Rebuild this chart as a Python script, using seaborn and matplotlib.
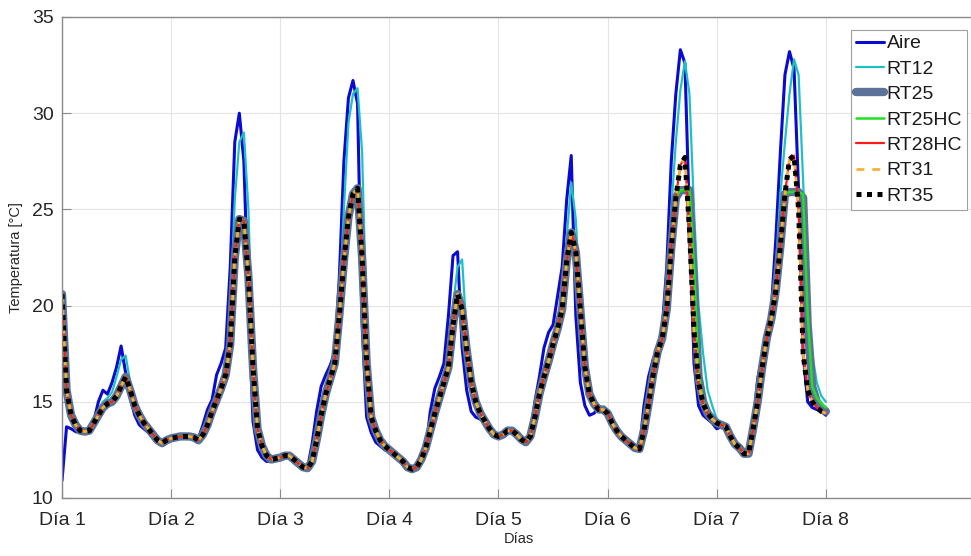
import numpy as np
import pandas as pd
import matplotlib
matplotlib.use("Agg")
import matplotlib.pyplot as plt
import seaborn as sns

# Hourly temperatures (°C) over seven days, hour 0 = start of "Día 1"
horas = np.arange(0, 169)

aire = [
    10.9, 13.7, 13.6, 13.45, 13.4, 13.35, 13.4, 14.0, 15.0, 15.6, 15.4, 16.0, 16.8, 17.9, 16.5, 15.2, 14.3, 13.8, 13.6, 13.4, 13.2, 13.0, 12.85, 13.0,
    13.1, 13.15, 13.2, 13.2, 13.2, 13.15, 13.1, 13.8, 14.6, 15.1, 16.4, 17.0, 17.8, 22.0, 28.5, 30.0, 27.5, 20.0, 14.0, 12.5, 12.1, 11.9, 11.9, 12.0,
    12.1, 12.2, 12.2, 12.0, 11.8, 11.6, 11.55, 12.8, 14.5, 15.8, 16.4, 16.9, 17.6, 21.5, 27.5, 30.8, 31.7, 30.5, 19.0, 14.2, 13.4, 12.9, 12.7, 12.5,
    12.4, 12.3, 12.1, 11.9, 11.6, 11.5, 11.6, 12.3, 12.5, 14.5, 15.7, 16.3, 17.0, 19.5, 22.6, 22.8, 17.8, 15.6, 14.5, 14.2, 14.1, 13.9, 13.6, 13.3,
    13.2, 13.3, 13.5, 13.5, 13.3, 13.05, 12.9, 13.3, 15.0, 16.3, 17.8, 18.6, 19.0, 20.5, 22.0, 25.5, 27.8, 19.5, 16.0, 14.8, 14.3, 14.4, 14.7, 14.6,
    14.4, 13.9, 13.5, 13.2, 13.0, 12.8, 12.6, 12.55, 14.8, 16.3, 17.2, 17.8, 18.8, 22.0, 27.5, 31.0, 33.3, 32.6, 24.5, 17.0, 14.8, 14.3, 14.1, 13.9,
    13.6, 13.7, 13.7, 13.2, 12.8, 12.6, 12.3, 12.3, 13.8, 16.2, 17.4, 18.3, 19.8, 23.5, 28.0, 32.0, 33.2, 32.3, 26.0, 17.5, 15.0, 14.7, 14.6, 14.5,
    14.3,
]

rt12 = [
    20.5, 16.5, 14.6, 13.9, 13.6, 13.45, 13.45, 13.8, 14.5, 15.0, 15.2, 15.5, 16.3, 17.2, 17.4, 16.0, 15.0, 14.4, 13.9, 13.6, 13.3, 13.0, 12.85, 13.0,
    13.1, 13.15, 13.2, 13.2, 13.2, 13.15, 13.0, 13.4, 14.0, 14.7, 15.4, 16.0, 16.6, 19.5, 25.5, 28.5, 29.0, 25.0, 17.0, 13.5, 12.6, 12.2, 12.0, 12.05,
    12.1, 12.2, 12.2, 12.0, 11.8, 11.6, 11.55, 12.0, 13.3, 14.6, 15.7, 16.5, 17.3, 20.0, 25.0, 29.5, 31.0, 31.3, 28.0, 19.0, 14.5, 13.6, 13.1, 12.8,
    12.5, 12.3, 12.1, 11.9, 11.6, 11.5, 11.6, 12.1, 12.7, 13.7, 14.6, 15.4, 16.3, 17.3, 20.0, 22.0, 22.4, 18.5, 16.3, 15.0, 14.4, 14.0, 13.6, 13.3,
    13.2, 13.3, 13.5, 13.5, 13.3, 13.05, 12.9, 13.2, 14.4, 15.6, 16.6, 17.4, 18.3, 19.2, 20.5, 23.5, 26.4, 24.5, 20.0, 16.8, 15.3, 14.9, 14.6, 14.6,
    14.4, 13.9, 13.5, 13.2, 13.0, 12.8, 12.6, 12.55, 13.7, 15.2, 16.6, 17.8, 18.6, 20.5, 25.0, 28.5, 31.2, 32.7, 31.0, 25.0, 20.0, 17.5, 15.6, 14.8,
    14.1, 13.9, 13.7, 13.2, 12.8, 12.6, 12.3, 12.3, 13.7, 15.2, 17.0, 18.5, 19.6, 22.0, 25.8, 28.5, 31.0, 32.8, 32.0, 26.5, 20.5, 17.5, 16.0, 15.3,
    15.0,
]

rt25 = [
    20.6, 15.6, 14.3, 13.8, 13.5, 13.45, 13.5, 13.9, 14.3, 14.7, 14.9, 15.0, 15.3, 15.8, 16.3, 15.6, 14.8, 14.3, 13.9, 13.6, 13.3, 13.0, 12.85, 13.0,
    13.1, 13.15, 13.2, 13.2, 13.2, 13.15, 13.0, 13.3, 13.8, 14.5, 15.1, 15.7, 16.4, 18.0, 22.5, 24.5, 24.4, 21.5, 16.8, 13.6, 12.7, 12.2, 12.0, 12.05,
    12.1, 12.2, 12.2, 12.0, 11.8, 11.6, 11.55, 11.9, 13.0, 14.3, 15.4, 16.2, 17.0, 19.5, 22.3, 24.6, 25.8, 26.1, 22.5, 17.0, 14.2, 13.5, 13.0, 12.7,
    12.5, 12.3, 12.1, 11.9, 11.6, 11.5, 11.6, 12.0, 12.6, 13.5, 14.4, 15.2, 16.0, 16.8, 19.0, 20.6, 19.8, 17.7, 16.0, 15.0, 14.4, 14.0, 13.6, 13.3,
    13.2, 13.3, 13.5, 13.5, 13.3, 13.05, 12.9, 13.2, 14.2, 15.4, 16.3, 17.1, 18.0, 18.8, 19.8, 22.3, 23.8, 22.8, 19.8, 16.8, 15.4, 14.9, 14.6, 14.6,
    14.4, 13.9, 13.5, 13.2, 13.0, 12.8, 12.6, 12.55, 13.5, 14.9, 16.4, 17.6, 18.3, 19.8, 23.0, 25.6, 26.0, 26.0, 26.0, 21.0, 16.3, 15.0, 14.4, 14.1,
    13.9, 13.8, 13.7, 13.2, 12.8, 12.6, 12.3, 12.3, 13.6, 15.0, 16.8, 18.3, 19.3, 20.8, 23.1, 25.8, 25.9, 25.9, 25.9, 25.6, 19.0, 15.8, 15.0, 14.7,
    14.5,
]

rt25hc = [
    20.6, 15.6, 14.3, 13.8, 13.5, 13.45, 13.5, 13.9, 14.3, 14.7, 14.9, 15.0, 15.3, 15.8, 16.3, 15.6, 14.8, 14.3, 13.9, 13.6, 13.3, 13.0, 12.85, 13.0,
    13.1, 13.15, 13.2, 13.2, 13.2, 13.15, 13.0, 13.3, 13.8, 14.5, 15.1, 15.7, 16.4, 18.0, 22.5, 24.5, 24.4, 21.5, 16.8, 13.6, 12.7, 12.2, 12.0, 12.05,
    12.1, 12.2, 12.2, 12.0, 11.8, 11.6, 11.55, 11.9, 13.0, 14.3, 15.4, 16.2, 17.0, 19.5, 22.3, 24.6, 25.8, 26.1, 22.5, 17.0, 14.2, 13.5, 13.0, 12.7,
    12.5, 12.3, 12.1, 11.9, 11.6, 11.5, 11.6, 12.0, 12.6, 13.5, 14.4, 15.2, 16.0, 16.8, 19.0, 20.6, 19.8, 17.7, 16.0, 15.0, 14.4, 14.0, 13.6, 13.3,
    13.2, 13.3, 13.5, 13.5, 13.3, 13.05, 12.9, 13.2, 14.2, 15.4, 16.3, 17.1, 18.0, 18.8, 19.8, 22.3, 23.8, 22.8, 19.8, 16.8, 15.4, 14.9, 14.6, 14.6,
    14.4, 13.9, 13.5, 13.2, 13.0, 12.8, 12.6, 12.55, 13.5, 14.9, 16.4, 17.6, 18.3, 19.8, 23.0, 25.6, 26.0, 26.0, 26.0, 22.0, 16.5, 15.0, 14.4, 14.1,
    13.9, 13.8, 13.7, 13.2, 12.8, 12.6, 12.3, 12.3, 13.6, 15.0, 16.8, 18.3, 19.3, 20.8, 23.1, 25.8, 25.9, 25.9, 25.9, 25.8, 19.5, 15.8, 15.2, 14.9,
    14.7,
]

rt28hc = [
    20.6, 15.6, 14.3, 13.8, 13.5, 13.45, 13.5, 13.9, 14.3, 14.7, 14.9, 15.0, 15.3, 15.8, 16.3, 15.6, 14.8, 14.3, 13.9, 13.6, 13.3, 13.0, 12.85, 13.0,
    13.1, 13.15, 13.2, 13.2, 13.2, 13.15, 13.0, 13.3, 13.8, 14.5, 15.1, 15.7, 16.4, 18.0, 22.5, 24.5, 24.4, 21.5, 16.8, 13.6, 12.7, 12.2, 12.0, 12.05,
    12.1, 12.2, 12.2, 12.0, 11.8, 11.6, 11.55, 11.9, 13.0, 14.3, 15.4, 16.2, 17.0, 19.5, 22.3, 24.6, 25.8, 26.1, 22.5, 17.0, 14.2, 13.5, 13.0, 12.7,
    12.5, 12.3, 12.1, 11.9, 11.6, 11.5, 11.6, 12.0, 12.6, 13.5, 14.4, 15.2, 16.0, 16.8, 19.0, 20.6, 19.8, 17.7, 16.0, 15.0, 14.4, 14.0, 13.6, 13.3,
    13.2, 13.3, 13.5, 13.5, 13.3, 13.05, 12.9, 13.2, 14.2, 15.4, 16.3, 17.1, 18.0, 18.8, 19.8, 22.3, 23.8, 22.8, 19.8, 16.8, 15.4, 14.9, 14.6, 14.6,
    14.4, 13.9, 13.5, 13.2, 13.0, 12.8, 12.6, 12.55, 13.5, 14.9, 16.4, 17.6, 18.3, 19.8, 23.0, 25.6, 27.3, 27.7, 24.0, 18.7, 16.0, 14.9, 14.4, 14.1,
    13.9, 13.8, 13.7, 13.2, 12.8, 12.6, 12.3, 12.3, 13.6, 15.0, 16.8, 18.3, 19.3, 20.8, 23.1, 25.8, 27.6, 27.8, 25.0, 17.5, 15.6, 15.0, 14.7, 14.5,
    14.4,
]

rt31 = [
    20.6, 15.6, 14.3, 13.8, 13.5, 13.45, 13.5, 13.9, 14.3, 14.7, 14.9, 15.0, 15.3, 15.8, 16.3, 15.6, 14.8, 14.3, 13.9, 13.6, 13.3, 13.0, 12.85, 13.0,
    13.1, 13.15, 13.2, 13.2, 13.2, 13.15, 13.0, 13.3, 13.8, 14.5, 15.1, 15.7, 16.4, 18.0, 22.5, 24.5, 24.4, 21.5, 16.8, 13.6, 12.7, 12.2, 12.0, 12.05,
    12.1, 12.2, 12.2, 12.0, 11.8, 11.6, 11.55, 11.9, 13.0, 14.3, 15.4, 16.2, 17.0, 19.5, 22.3, 24.6, 25.8, 26.1, 22.5, 17.0, 14.2, 13.5, 13.0, 12.7,
    12.5, 12.3, 12.1, 11.9, 11.6, 11.5, 11.6, 12.0, 12.6, 13.5, 14.4, 15.2, 16.0, 16.8, 19.0, 20.6, 19.8, 17.7, 16.0, 15.0, 14.4, 14.0, 13.6, 13.3,
    13.2, 13.3, 13.5, 13.5, 13.3, 13.05, 12.9, 13.2, 14.2, 15.4, 16.3, 17.1, 18.0, 18.8, 19.8, 22.3, 23.8, 22.8, 19.8, 16.8, 15.4, 14.9, 14.6, 14.6,
    14.4, 13.9, 13.5, 13.2, 13.0, 12.8, 12.6, 12.55, 13.5, 14.9, 16.4, 17.6, 18.3, 19.8, 23.0, 25.6, 27.3, 27.7, 24.0, 18.7, 16.0, 14.9, 14.4, 14.1,
    13.9, 13.8, 13.7, 13.2, 12.8, 12.6, 12.3, 12.3, 13.6, 15.0, 16.8, 18.3, 19.3, 20.8, 23.1, 25.8, 27.6, 27.8, 25.0, 17.5, 15.6, 15.0, 14.7, 14.5,
    14.4,
]

rt35 = [
    20.6, 15.6, 14.3, 13.8, 13.5, 13.45, 13.5, 13.9, 14.3, 14.7, 14.9, 15.0, 15.3, 15.8, 16.3, 15.6, 14.8, 14.3, 13.9, 13.6, 13.3, 13.0, 12.85, 13.0,
    13.1, 13.15, 13.2, 13.2, 13.2, 13.15, 13.0, 13.3, 13.8, 14.5, 15.1, 15.7, 16.4, 18.0, 22.5, 24.5, 24.4, 21.5, 16.8, 13.6, 12.7, 12.2, 12.0, 12.05,
    12.1, 12.2, 12.2, 12.0, 11.8, 11.6, 11.55, 11.9, 13.0, 14.3, 15.4, 16.2, 17.0, 19.5, 22.3, 24.6, 25.8, 26.1, 22.5, 17.0, 14.2, 13.5, 13.0, 12.7,
    12.5, 12.3, 12.1, 11.9, 11.6, 11.5, 11.6, 12.0, 12.6, 13.5, 14.4, 15.2, 16.0, 16.8, 19.0, 20.6, 19.8, 17.7, 16.0, 15.0, 14.4, 14.0, 13.6, 13.3,
    13.2, 13.3, 13.5, 13.5, 13.3, 13.05, 12.9, 13.2, 14.2, 15.4, 16.3, 17.1, 18.0, 18.8, 19.8, 22.3, 23.8, 22.8, 19.8, 16.8, 15.4, 14.9, 14.6, 14.6,
    14.4, 13.9, 13.5, 13.2, 13.0, 12.8, 12.6, 12.55, 13.5, 14.9, 16.4, 17.6, 18.3, 19.8, 23.0, 25.6, 27.3, 27.7, 24.0, 18.7, 16.0, 14.9, 14.4, 14.1,
    13.9, 13.8, 13.7, 13.2, 12.8, 12.6, 12.3, 12.3, 13.6, 15.0, 16.8, 18.3, 19.3, 20.8, 23.1, 25.8, 27.6, 27.8, 25.0, 17.5, 15.6, 15.0, 14.7, 14.5,
    14.4,
]

dias_ticks = [1, 2, 3, 4, 5, 6, 7, 8]
dias_labels = ["Día 1", "Día 2", "Día 3", "Día 4", "Día 5", "Día 6", "Día 7", "Día 8"]
y_ticks = [10, 15, 20, 25, 30, 35]

sns.set_theme(style="whitegrid")
plt.rcParams["font.family"] = ["Liberation Sans", "DejaVu Sans"]

dias = 1 + horas / 24.0
df = pd.DataFrame({"dia": dias, "Aire": aire, "RT12": rt12, "RT25": rt25,
                   "RT25HC": rt25hc, "RT28HC": rt28hc, "RT31": rt31, "RT35": rt35})

fig = plt.figure(figsize=(9.71, 5.56), dpi=100)
ax = fig.add_axes([62 / 971, 1 - 498 / 556, 1 - 62 / 971, (498 - 17) / 556])

estilos = [
    ("Aire",   dict(color="#0b0bd0", linewidth=2.2)),
    ("RT12",   dict(color="#1ec0c8", linewidth=1.6)),
    ("RT25",   dict(color="#5d7299", linewidth=6.0, solid_capstyle="round")),
    ("RT25HC", dict(color="#22e022", linewidth=1.8)),
    ("RT28HC", dict(color="#ff1a1a", linewidth=1.6)),
    ("RT31",   dict(color="#f2b130", linewidth=1.9, dashes=(3, 3))),
    ("RT35",   dict(color="black", linewidth=3.6, dashes=(1, 1.1), dash_capstyle="butt")),
]

for nombre, kw in estilos:
    dashes = kw.pop("dashes", None)
    sns.lineplot(data=df, x="dia", y=nombre, ax=ax, label=nombre, estimator=None, **kw)
    if dashes is not None:
        ax.lines[-1].set_dashes(dashes)

ax.set_xlim(1, 9.33)
ax.set_ylim(10, 35)
ax.set_xticks(dias_ticks)
ax.set_xticklabels(dias_labels)
ax.set_yticks(y_ticks)

ax.grid(True, color="#e4e4e4", linewidth=0.8)
ax.set_facecolor("white")
for lado in ["left", "bottom", "top"]:
    ax.spines[lado].set_visible(True)
    ax.spines[lado].set_color("#8a8a8a")
    ax.spines[lado].set_linewidth(1.0)
ax.spines["right"].set_visible(False)

ax.tick_params(axis="both", direction="in", length=6.5, width=0.8, color="#8a8a8a",
               labelsize=14, labelcolor="#262626")
ax.tick_params(axis="x", pad=10, bottom=True)
ax.tick_params(axis="y", pad=6, left=True)

ax.set_xlabel("Días", fontsize=10.5, color="#262626")
ax.set_ylabel("Temperatura [°C]", fontsize=10.5, color="#262626")
ax.xaxis.set_label_coords((519 - 62) / 909, (498 - 532) / 481)
ax.yaxis.set_label_coords((23 - 62) / 909, 0.5)

leg = ax.legend(loc="upper right", bbox_to_anchor=(967 / 971, 1 - 30 / 556),
                bbox_transform=fig.transFigure, fontsize=14, frameon=True,
                fancybox=False, framealpha=1, edgecolor="#a0a0a0",
                handlelength=1.45, handletextpad=0.15, borderpad=0.25,
                labelspacing=0.4, borderaxespad=0)
leg.get_frame().set_linewidth(0.8)
for t in leg.get_texts():
    t.set_color("#1a1a1a")

fig.savefig("out.png", dpi=100, facecolor="white")
